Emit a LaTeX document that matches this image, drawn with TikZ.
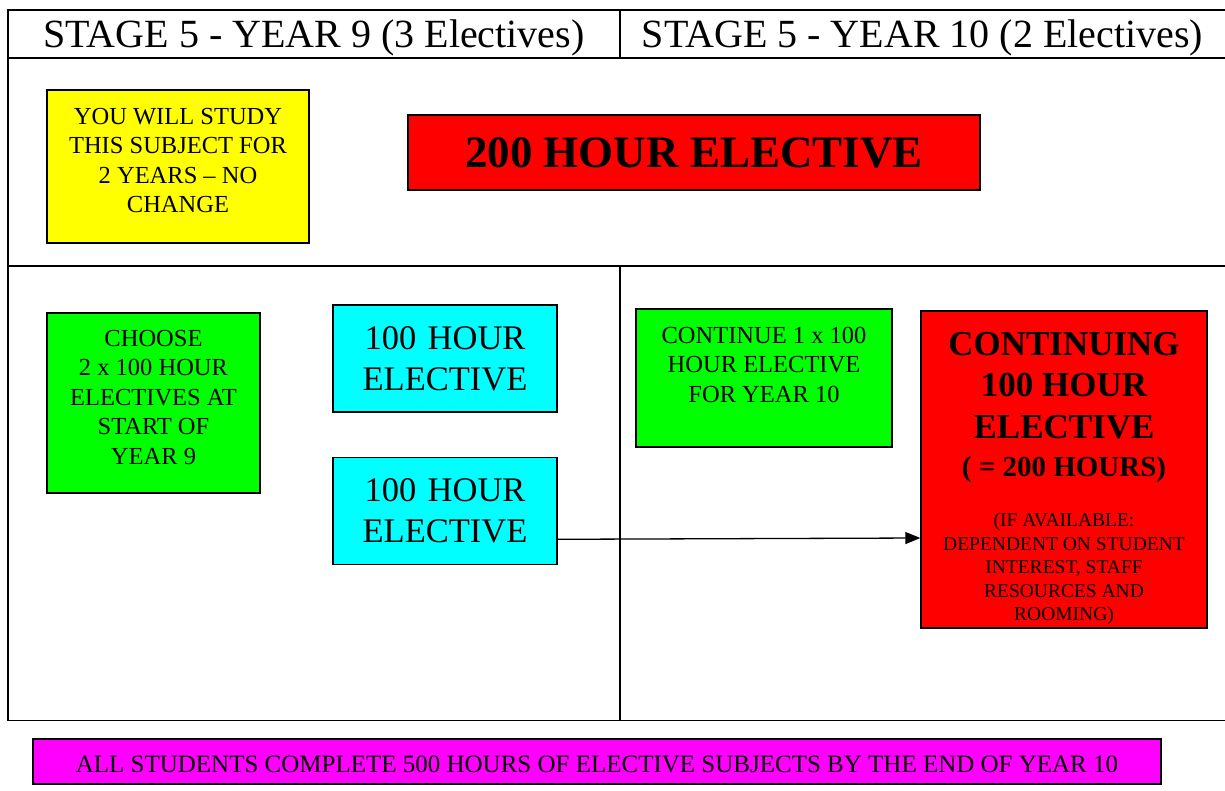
\documentclass[tikz,border=0pt]{standalone}
\usepackage{fontspec}
\setmainfont{Liberation Serif}
\usetikzlibrary{arrows.meta, positioning}
\definecolor{boxyellow}{RGB}{255,255,0}
\definecolor{boxred}{RGB}{255,0,0}
\definecolor{boxgreen}{RGB}{0,255,0}
\definecolor{boxcyan}{RGB}{0,255,255}
\definecolor{boxmagenta}{RGB}{255,0,255}
\tikzstyle{header} = [minimum height=48pt, inner sep=0pt, font=\fontsize{40}{48}\selectfont]
\tikzstyle{box} = [rectangle, draw=black, line width=1.3pt, inner sep=0pt, align=center]
\tikzstyle{note} = [box, fill=boxyellow, font=\fontsize{24.5}{29.5}\selectfont]
\tikzstyle{choice} = [box, fill=boxgreen, font=\fontsize{24.5}{29.5}\selectfont]
\tikzstyle{elective} = [box, fill=boxcyan, text width=224pt, minimum height=107pt, font=\fontsize{34.5}{41}\selectfont]
\tikzstyle{long_elective} = [box, fill=boxred]
\tikzstyle{summary} = [box, fill=boxmagenta, minimum width=1128pt, minimum height=45pt, text height=22pt, text depth=0pt, font=\fontsize{25}{30}\selectfont]
\tikzstyle{grid} = [line width=1.3pt]
\tikzstyle{arrow} = [line width=1.3pt, -{Triangle[length=15pt,width=12pt]}]

\begin{document}
\begin{tikzpicture}[x=1pt, y=-1pt]
        \useasboundingbox (0,0) rectangle (1225,791);

        \node (hdr_nine) [header] at (314,38) {STAGE 5 - YEAR 9 (3 Electives)};
        \node (hdr_ten) [header] at (922.5,38) {STAGE 5 - YEAR 10 (2 Electives)};

        \node (keep) [note] at (178,166.5) {\parbox[c][153pt][t]{262pt}{\centering\vspace*{18pt}YOU WILL STUDY\\THIS SUBJECT FOR\\2 YEARS – NO\\CHANGE}};
        \node (two_hundred) [long_elective, minimum width=572pt, minimum height=75pt, font=\fontsize{45}{50}\selectfont\bfseries] at (694,152.5) {200 HOUR ELECTIVE};

        \node (choose) [choice] at (153.5,403) {\parbox[c][180pt][t]{213pt}{\centering\vspace*{17pt}CHOOSE\\2 x 100 HOUR\\ELECTIVES AT\\START OF\\YEAR 9}};
        \node (elec_a) [elective] at (445,358.5) {100 HOUR\\ELECTIVE};
        \node (elec_b) [elective, below=44pt of elec_a] {100 HOUR\\ELECTIVE};
        \node (carry) [choice] at (764,378) {\parbox[c][138pt][t]{256pt}{\centering\vspace*{18pt}CONTINUE 1 x 100\\HOUR ELECTIVE\\FOR YEAR 10}};
        \node (cont) [long_elective] at (1064,469.5) {\parbox[c][317pt][t]{286pt}{\centering
            \vspace*{21pt}
            {\fontsize{35}{41.5}\selectfont\bfseries CONTINUING\\100 HOUR\\ELECTIVE\par}
            {\fontsize{29}{38}\selectfont\bfseries ( = 200 HOURS)\par}
            \vspace{27pt}
            {\fontsize{19.5}{23.5}\selectfont (IF AVAILABLE:\\DEPENDENT ON STUDENT\\INTEREST, STAFF\\RESOURCES AND\\ROOMING)\par}}};

        \node (total) [summary] at (597,761.5) {ALL STUDENTS COMPLETE 500 HOURS OF ELECTIVE SUBJECTS BY THE END OF YEAR 10};

        \draw [grid] (1225,10) -- (8,10) -- (8,720.5) -- (1225,720.5);
        \draw [grid] (8,58) -- (1225,58);
        \draw [grid, line width=2.2pt] (8,266) -- (1225,266);
        \draw [grid] (620,10) -- (620,58) (620,266) -- (620,720.5);

        \draw [arrow] ([yshift=-28.5pt]elec_b.east) -- ([yshift=-68.5pt]cont.west);
    \end{tikzpicture}
\end{document}
